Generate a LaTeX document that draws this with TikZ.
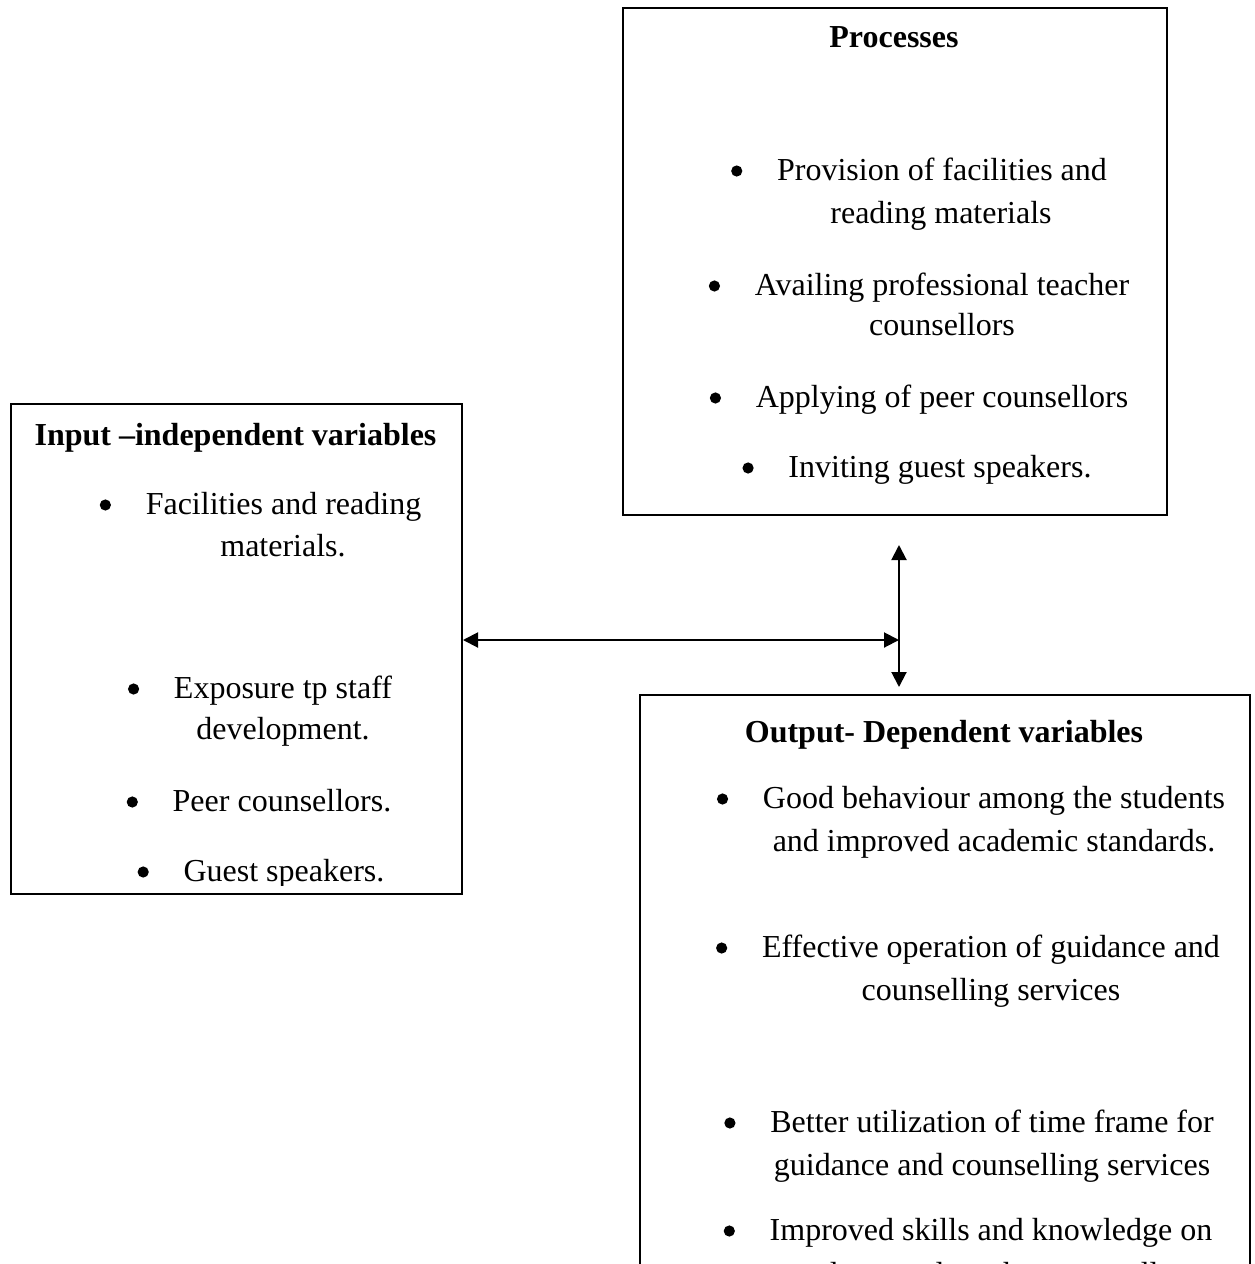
\documentclass[tikz,border=0pt]{standalone}
\usepackage{fontspec}
\setmainfont{Liberation Serif}
\usetikzlibrary{arrows.meta}
\tikzset{
  box/.style={draw, line width=1pt, inner sep=0pt, anchor=north west},
  txt/.style={inner sep=0pt, anchor=base, font=\fontsize{16pt}{18pt}\selectfont},
  ttl/.style={inner sep=0pt, anchor=base, font=\fontsize{16pt}{18pt}\selectfont\bfseries},
  bul/.style={circle, fill=black, inner sep=0pt, minimum size=5.6pt},
  conn/.style={line width=1pt, {Triangle[length=7.5pt,width=7.5pt]}-{Triangle[length=7.5pt,width=7.5pt]}},
}
\begin{document}
\begin{tikzpicture}[x=0.5pt,y=-0.5pt]
\useasboundingbox (0,0) rectangle (1254,1264);
\begin{scope}
\clip (0,0) rectangle (1254,1264);
% boxes
\node[box, minimum width=272pt, minimum height=253.5pt] (proc) at (622,7) {};
\node[box, minimum width=225.5pt, minimum height=245pt] (inp) at (10,403) {};
\node[box, minimum width=305pt, minimum height=320pt] (outp) at (639,694) {};

% Processes
\node[ttl] (pt) at (894,47) {Processes};
\node[txt] (p1) at (942,180) {Provision of facilities and};
\node[txt] (p2) at (941,223) {reading materials};
\node[txt] (p3) at (942,295) {Availing professional teacher};
\node[txt] (p4) at (942,335) {counsellors};
\node[txt] (p5) at (942,407) {Applying of peer counsellors};
\node[txt] (p6) at (940,477) {Inviting guest speakers.};
\node[bul] (pb1) at ([xshift=-20pt,yshift=4.5pt]p1.base west) {};
\node[bul] (pb3) at ([xshift=-20pt,yshift=4.5pt]p3.base west) {};
\node[bul] (pb5) at ([xshift=-20pt,yshift=4.5pt]p5.base west) {};
\node[bul] (pb6) at ([xshift=-20pt,yshift=4.5pt]p6.base west) {};

% Input
\begin{scope}
\clip (10,403) rectangle (461,885);
\node[ttl] (it) at (235.5,445) {Input –independent variables};
\node[txt] (i1) at (283.5,514) {Facilities and reading};
\node[txt] (i2) at (283,556) {materials.};
\node[txt] (i3) at (283,698) {Exposure tp staff};
\node[txt] (i4) at (283,739) {development.};
\node[txt] (i5) at (282,811) {Peer counsellors.};
\node[txt] (i6) at (284,881) {Guest speakers.};
\node[bul] (ib1) at ([xshift=-20pt,yshift=4.5pt]i1.base west) {};
\node[bul] (ib3) at ([xshift=-20pt,yshift=4.5pt]i3.base west) {};
\node[bul] (ib5) at ([xshift=-20pt,yshift=4.5pt]i5.base west) {};
\node[bul] (ib6) at ([xshift=-20pt,yshift=4.5pt]i6.base west) {};
\end{scope}

% Output
\node[ttl] (ot) at (944,742) {Output- Dependent variables};
\node[txt] (o1) at (994,808) {Good behaviour among the students};
\node[txt] (o2) at (994,851) {and improved academic standards.};
\node[txt] (o3) at (991,957) {Effective operation of guidance and};
\node[txt] (o4) at (991,1000) {counselling services};
\node[txt] (o5) at (992,1132) {Better utilization of time frame for};
\node[txt] (o6) at (992,1175) {guidance and counselling services};
\node[txt] (o7) at (991,1240) {Improved skills and knowledge on};
\node[txt] (o8) at (991,1284) {students and teacher counsellors};
\node[bul] (ob1) at ([xshift=-20pt,yshift=4.5pt]o1.base west) {};
\node[bul] (ob3) at ([xshift=-20pt,yshift=4.5pt]o3.base west) {};
\node[bul] (ob5) at ([xshift=-20pt,yshift=4.5pt]o5.base west) {};
\node[bul] (ob7) at ([xshift=-20pt,yshift=4.5pt]o7.base west) {};

% connectors
\coordinate (hj) at (899,640);
\draw[conn] (inp.east |- hj) -- (hj);
\draw[conn] ([yshift=-14.5pt]proc.south -| hj) -- ([yshift=3.5pt]outp.north -| hj);
\end{scope}
\end{tikzpicture}
\end{document}
